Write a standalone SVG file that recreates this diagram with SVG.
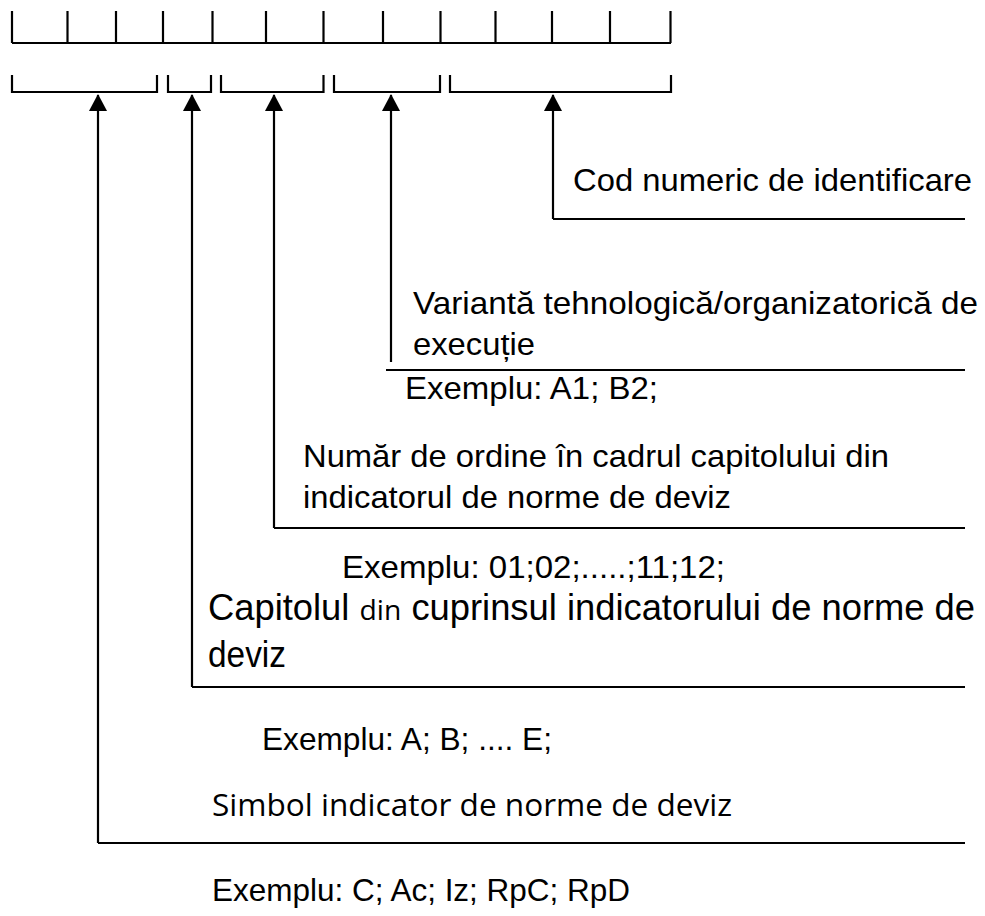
<svg xmlns="http://www.w3.org/2000/svg" width="985" height="916" viewBox="0 0 985 916">
<style>
.ln{fill:none;stroke:#000;stroke-width:2.2}
.t{font-family:"Liberation Sans",Arial,sans-serif;font-size:32px;fill:#000}
.tb{font-family:"Liberation Sans",Arial,sans-serif;font-size:36px;fill:#000}
.c{font-family:"Open Sans","Noto Sans",sans-serif;font-size:31px;fill:#000}
</style>
<defs>
<marker id="ah" viewBox="0 0 17 18" markerWidth="17" markerHeight="18" refX="16" refY="9" orient="auto" markerUnits="userSpaceOnUse">
<path d="M0,0 L17,9 L0,18 Z" fill="#000"/>
</marker>
</defs>
<g id="register">
<path class="ln" d="M12,43 H671 M12,11 V43 M67.5,11 V43 M116,11 V43 M163,11 V43 M212.5,11 V43 M266,11 V43 M323.5,11 V43 M383,11 V43 M440.5,11 V43 M495.5,11 V43 M552,11 V43 M610,11 V43 M670.5,11 V43"/>
</g>
<g id="brackets">
<path class="ln" d="M12,75 V92 H157 V75"/>
<path class="ln" d="M168,75 V92 H211 V75"/>
<path class="ln" d="M221,75 V92 H323.5 V75"/>
<path class="ln" d="M334,75 V92 H440 V75"/>
<path class="ln" d="M450,75 V92 H671 V75"/>
</g>
<g id="connectors">
<path class="ln" d="M98,843 V95" marker-end="url(#ah)"/>
<path class="ln" d="M98,843 H965"/>
<path class="ln" d="M192,687 V95" marker-end="url(#ah)"/>
<path class="ln" d="M192,687 H965"/>
<path class="ln" d="M274,528 V95" marker-end="url(#ah)"/>
<path class="ln" d="M274,528 H965"/>
<path class="ln" d="M391,362 V95" marker-end="url(#ah)"/>
<path class="ln" d="M386,370 H965"/>
<path class="ln" d="M553,219 V95" marker-end="url(#ah)"/>
<path class="ln" d="M553,219 H965"/>
</g>
<g id="n-cod">
<text class="t" x="573" y="191" textLength="399" lengthAdjust="spacingAndGlyphs">Cod numeric de identificare</text>
</g>
<g id="n-varianta">
<text class="t" x="413" y="314" textLength="565" lengthAdjust="spacingAndGlyphs">Variantă tehnologică/organizatorică de</text>
<text class="t" x="413" y="355" textLength="122" lengthAdjust="spacingAndGlyphs">execuție</text>
<text class="t" x="405" y="399" textLength="253" lengthAdjust="spacingAndGlyphs">Exemplu: A1; B2;</text>
</g>
<g id="n-numar">
<text class="t" x="303" y="467" textLength="586" lengthAdjust="spacingAndGlyphs">Număr de ordine în cadrul capitolului din</text>
<text class="t" x="303" y="508" textLength="428" lengthAdjust="spacingAndGlyphs">indicatorul de norme de deviz</text>
<text class="t" x="342" y="578" textLength="383" lengthAdjust="spacingAndGlyphs">Exemplu: 01;02;.....;11;12;</text>
</g>
<g id="n-capitol">
<text class="tb" x="208" y="620" textLength="767" lengthAdjust="spacingAndGlyphs">Capitolul <tspan font-family="Open Sans, Noto Sans, sans-serif" font-size="28">din</tspan> cuprinsul indicatorului de norme de</text>
<text class="tb" x="208" y="667" textLength="78" lengthAdjust="spacingAndGlyphs">deviz</text>
<text class="t" x="262" y="750" textLength="290" lengthAdjust="spacingAndGlyphs">Exemplu: A; B; .... E;</text>
</g>
<g id="n-simbol">
<text class="c" x="212" y="816" textLength="520" lengthAdjust="spacingAndGlyphs">Simbol indicator de norme de deviz</text>
<text class="t" x="212" y="901" textLength="418" lengthAdjust="spacingAndGlyphs">Exemplu: C; Ac; Iz; RpC; RpD</text>
</g>
</svg>
